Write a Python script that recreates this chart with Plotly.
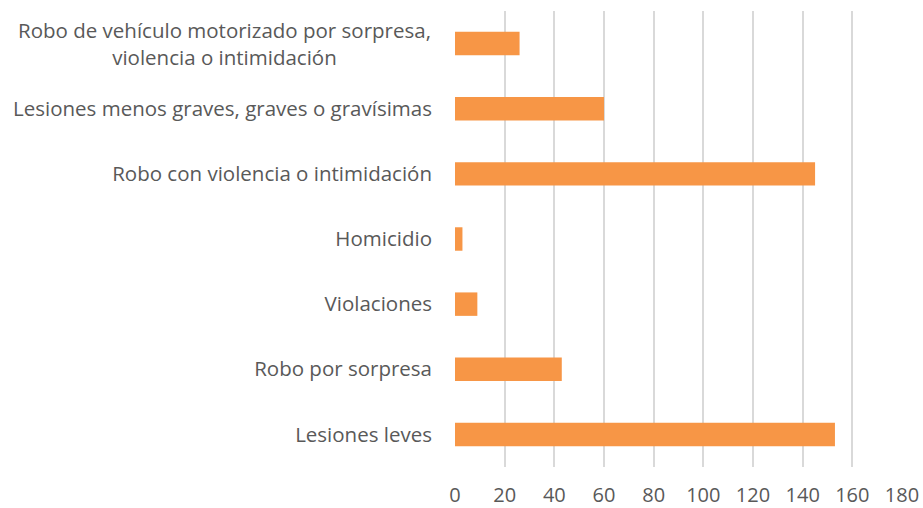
import plotly.graph_objects as go

categorias = [
    "Lesiones leves",
    "Robo por sorpresa",
    "Violaciones",
    "Homicidio",
    "Robo con violencia o intimidación",
    "Lesiones menos graves, graves o gravísimas",
    "Robo de vehículo motorizado por sorpresa,<br>violencia o intimidación",
]
casos = [153, 43, 9, 3, 145, 60, 26]
ticks_x = [0, 20, 40, 60, 80, 100, 120, 140, 160, 180]

FONT = "Open Sans, Calibri, sans-serif"
GRIS = "#595959"

fig = go.Figure()
fig.add_trace(go.Bar(
    x=casos,
    y=categorias,
    orientation="h",
    marker=dict(color="#F79646", line=dict(width=0)),
    hoverinfo="x+y",
))

# las etiquetas de una linea van como ticks; la de dos lineas va centrada en una anotacion
ticktext = [c if "<br>" not in c else "" for c in categorias]

fig.update_layout(
    width=923,
    height=508,
    margin=dict(l=455, r=21, t=11, b=41, autoexpand=False),
    paper_bgcolor="white",
    plot_bgcolor="white",
    bargap=0.64,
    showlegend=False,
    font=dict(family=FONT, size=20, color=GRIS),
    xaxis=dict(
        range=[0, 180],
        tickvals=ticks_x,
        showgrid=True,
        gridcolor="#d9d9d9",
        gridwidth=1.5,
        zeroline=False,
        showline=False,
        ticks="",
        automargin=False,
        ticklabelstandoff=14,
        tickfont=dict(family=FONT, size=20, color=GRIS),
        fixedrange=True,
    ),
    yaxis=dict(
        categoryorder="array",
        categoryarray=categorias,
        tickvals=categorias,
        ticktext=ticktext,
        showgrid=False,
        zeroline=False,
        showline=False,
        ticks="",
        automargin=False,
        ticklabelstandoff=22,
        tickfont=dict(family=FONT, size=20.5, color=GRIS),
        fixedrange=True,
    ),
)

fig.add_annotation(
    text=categorias[-1],
    xref="paper", yref="y",
    x=0, y=categorias[-1],
    xshift=-22,
    xanchor="right", yanchor="middle",
    align="center",
    showarrow=False,
    font=dict(family=FONT, size=20.5, color=GRIS),
)

# quitar el margen por defecto del body para que el grafico quede en (0, 0)
fig.write_html(
    "out.html",
    config={"displayModeBar": False},
    post_script="document.body.style.margin='0';",
)
